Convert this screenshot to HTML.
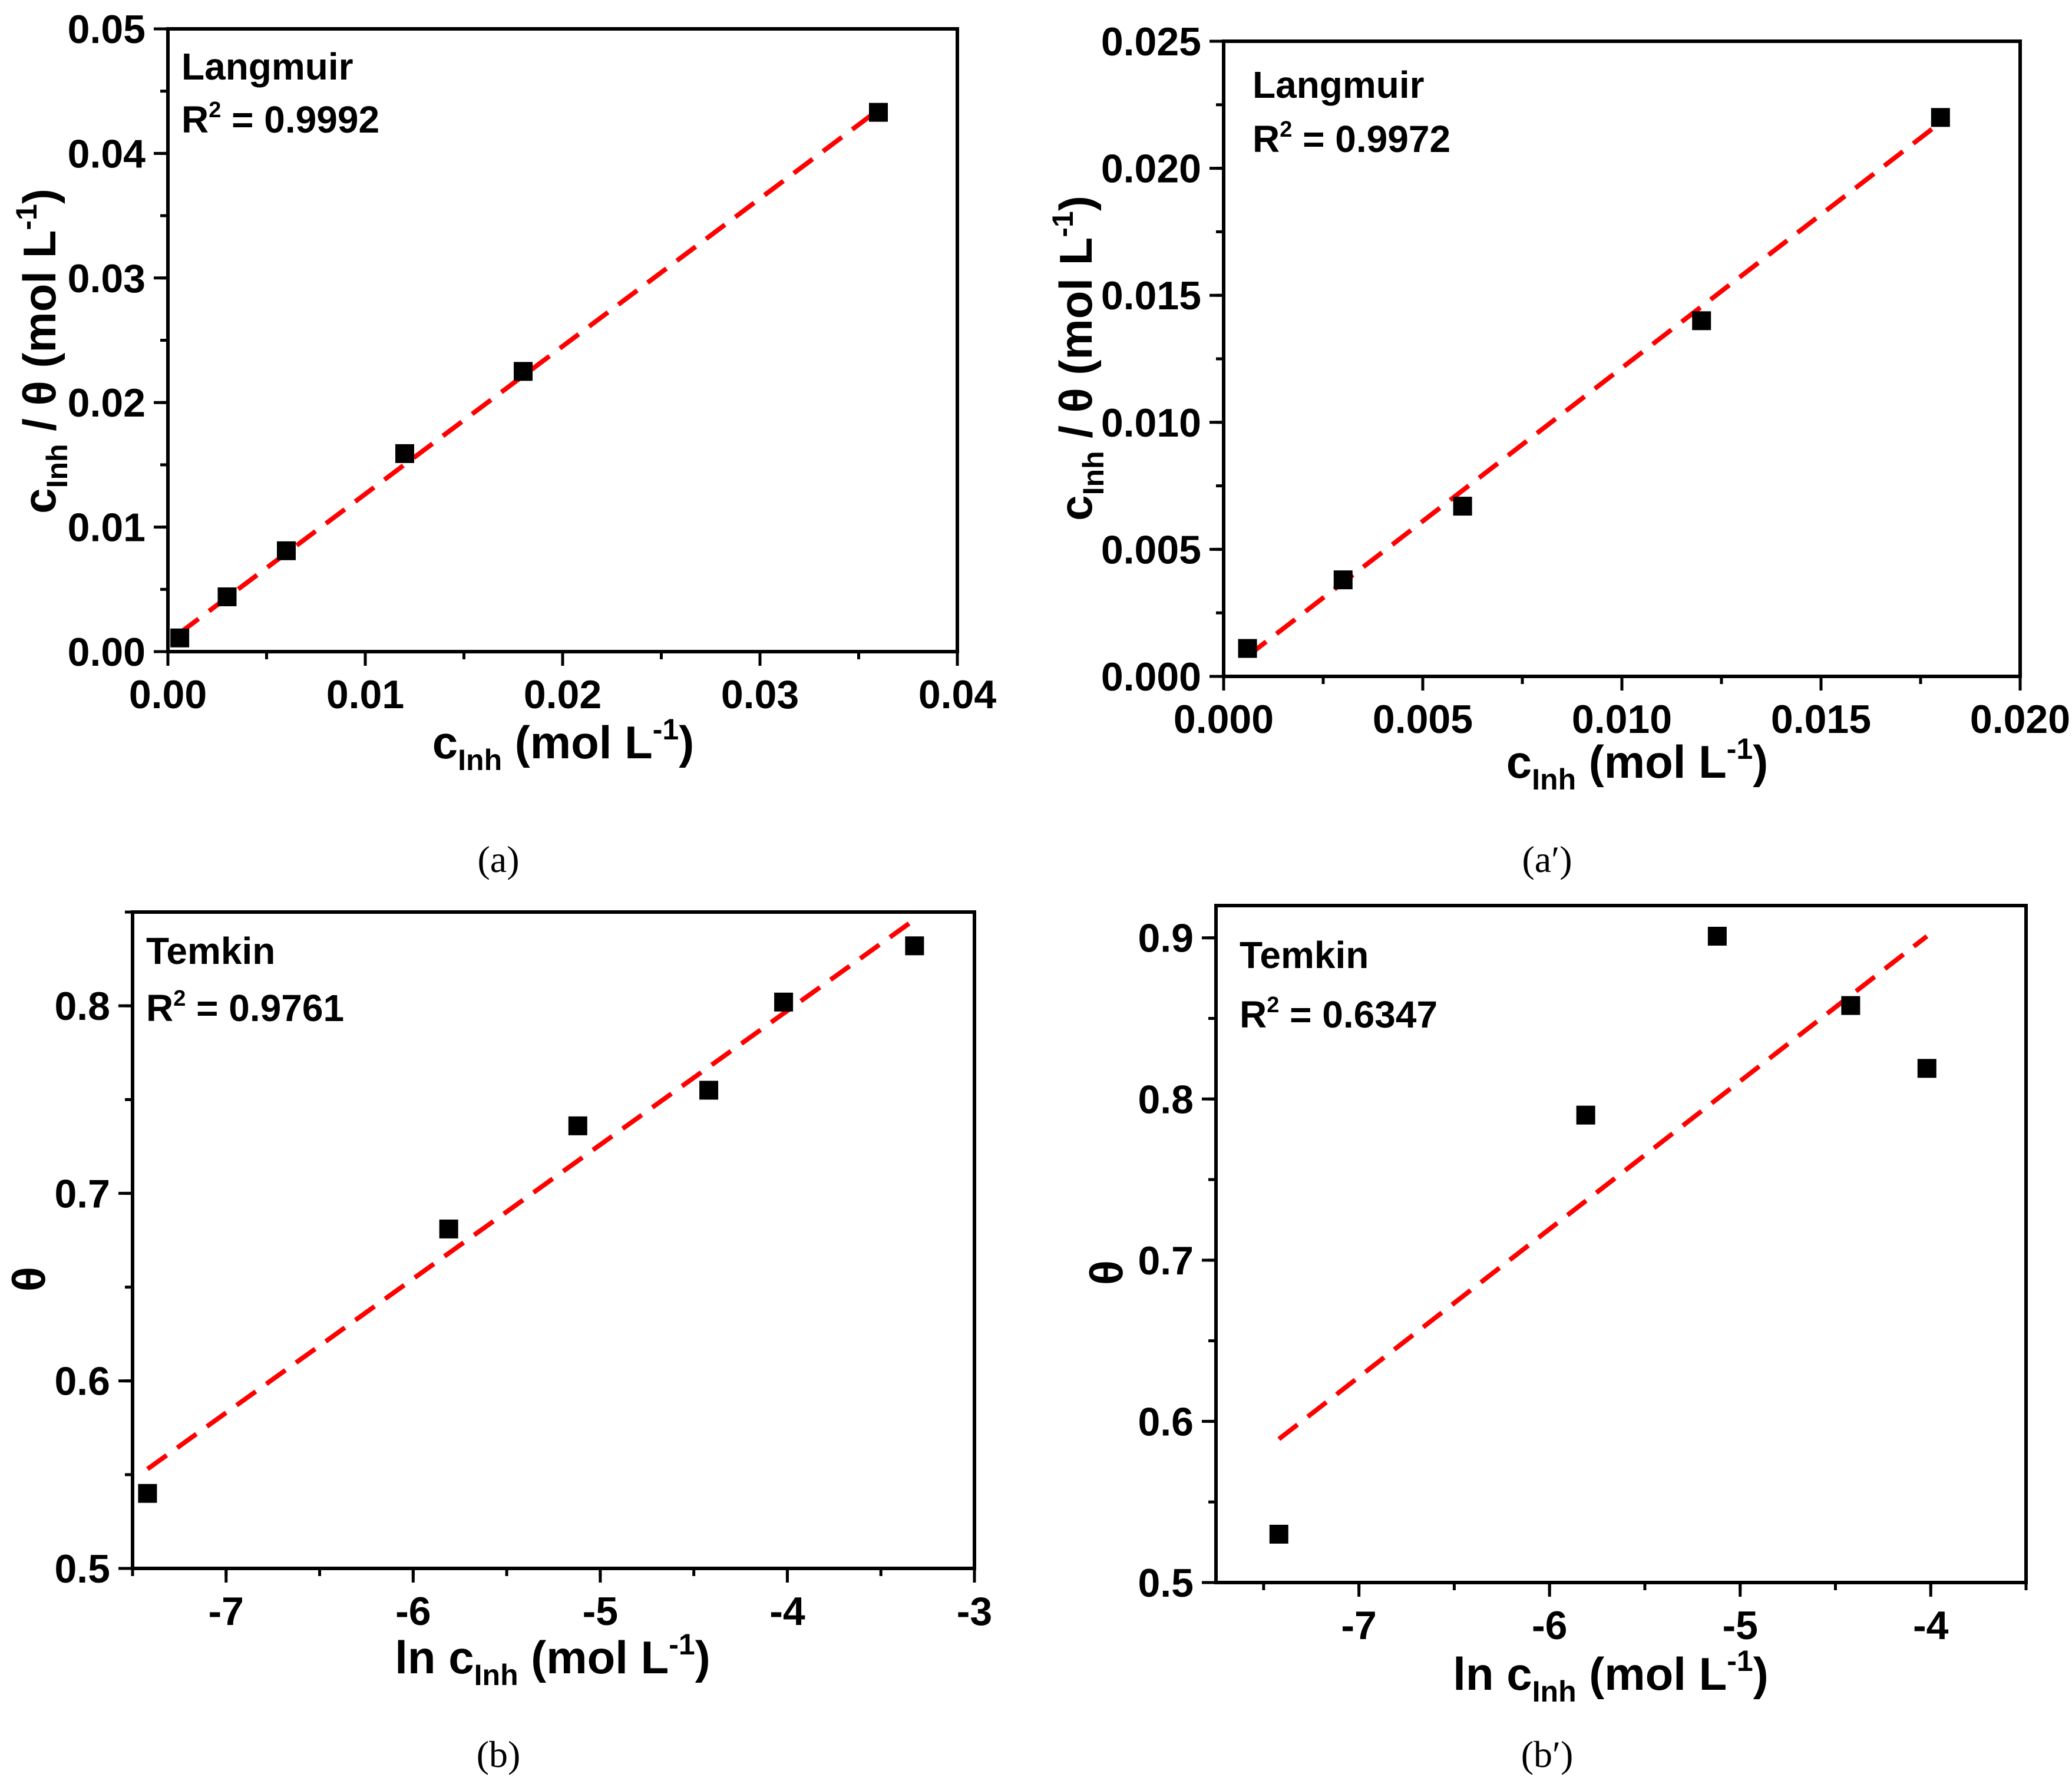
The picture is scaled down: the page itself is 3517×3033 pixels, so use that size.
<!DOCTYPE html>
<html><head><meta charset="utf-8"><style>
html,body{margin:0;padding:0;background:#fff}
svg{display:block}
text{font-family:"Liberation Sans",Arial,sans-serif;font-weight:bold;fill:#000}
.cap{font-family:"Liberation Serif",serif;font-weight:normal}
</style></head><body>
<svg id="fig" width="3517" height="3033" viewBox="0 0 3517 3033" xmlns="http://www.w3.org/2000/svg"></svg>
<script>
// Panel a (Langmuir)
const aX = [0.0006, 0.003, 0.006, 0.012, 0.018, 0.036];
const aY = [0.0011, 0.0044, 0.0081, 0.0159, 0.0225, 0.0433];
const aFitX = [0.0006, 0.036];
const aFitY = [0.0015, 0.0435];
const aXTicks = ["0.00","0.01","0.02","0.03","0.04"];
const aYTicks = ["0.00","0.01","0.02","0.03","0.04","0.05"];
// Panel a' (Langmuir)
const apX = [0.0006, 0.003, 0.006, 0.012, 0.018];
const apY = [0.0011, 0.0038, 0.0067, 0.0140, 0.0220];
const apFitX = [0.0006, 0.018];
const apFitY = [0.0008, 0.0218];
const apXTicks = ["0.000","0.005","0.010","0.015","0.020"];
const apYTicks = ["0.000","0.005","0.010","0.015","0.020","0.025"];
// Panel b (Temkin)
const bX = [-7.42, -5.81, -5.12, -4.42, -4.02, -3.32];
const bY = [0.540, 0.681, 0.736, 0.755, 0.802, 0.832];
const bFitX = [-7.42, -3.32];
const bFitY = [0.553, 0.846];
const bXTicks = ["-7","-6","-5","-4","-3"];
const bYTicks = ["0.5","0.6","0.7","0.8"];
// Panel b' (Temkin)
const bpX = [-7.42, -5.81, -5.12, -4.42, -4.02];
const bpY = [0.530, 0.790, 0.901, 0.858, 0.819];
const bpFitX = [-7.42, -4.02];
const bpFitY = [0.589, 0.901];
const bpXTicks = ["-7","-6","-5","-4"];
const bpYTicks = ["0.5","0.6","0.7","0.8","0.9"];

const NS="http://www.w3.org/2000/svg";
const svg=document.getElementById('fig');
function mk(tag,attrs,parent){const e=document.createElementNS(NS,tag);for(const k in attrs)e.setAttribute(k,attrs[k]);(parent||svg).appendChild(e);return e;}

function panel(id,box,xr,yr,xMinor,yMinor,xT,yT,px,py,fx,fy){
  const g=mk('g',{});
  
  
  const sx=v=>box.l+(v-xr[0])/(xr[1]-xr[0])*(box.r-box.l);
  const sy=v=>box.b-(v-yr[0])/(yr[1]-yr[0])*(box.b-box.t);
  const frame=mk('rect',{x:box.l,y:box.t,width:box.r-box.l,height:box.b-box.t,fill:'none',stroke:'#000','stroke-width':6},g);
  
  
  for(let v=xr[0];v<=xr[1]+1e-9;v+=xMinor){const x=sx(Math.round(v/xMinor)*xMinor);
    const t=mk('line',{x1:x,x2:x,y1:box.b,y2:box.b+13,stroke:'#000','stroke-width':5},g);
    
    }
  for(let v=yr[0];v<=yr[1]+1e-9;v+=yMinor){const y=sy(Math.round(v/yMinor)*yMinor);
    const t=mk('line',{x1:box.l-13,x2:box.l,y1:y,y2:y,stroke:'#000','stroke-width':5},g);
    
    }
  xT.forEach(s=>{const x=sx(parseFloat(s));
    const t=mk('line',{x1:x,x2:x,y1:box.b,y2:box.b+24,stroke:'#000','stroke-width':5},g);
    
    
    const tx=mk('text',{x:x,y:box.b+96,'font-size':68,'text-anchor':'middle'},g);tx.textContent=s;
    
    });
  yT.forEach(s=>{const y=sy(parseFloat(s));
    const t=mk('line',{x1:box.l-24,x2:box.l,y1:y,y2:y,stroke:'#000','stroke-width':5},g);
    
    
    const tx=mk('text',{x:box.l-38,y:y+24,'font-size':68,'text-anchor':'end'},g);tx.textContent=s;
    
    });
  const fit=mk('line',{x1:sx(fx[0]),y1:sy(fy[0]),x2:sx(fx[1]),y2:sy(fy[1]),stroke:'#ff0000','stroke-width':8,'stroke-dasharray':'40 22'},g);
  
  
  px.forEach((v,i)=>{const m=mk('rect',{x:sx(v)-16,y:sy(py[i])-16,width:32,height:32,fill:'#000'},g);
    
    });
  return g;
}
panel('a',{l:285,r:1625,t:49,b:1106},[0,0.04],[0,0.05],0.005,0.005,aXTicks,aYTicks,aX,aY,aFitX,aFitY);
panel('a-prime',{l:2077,r:3429,t:70,b:1148},[0,0.02],[0,0.025],0.0025,0.0025,apXTicks,apYTicks,apX,apY,apFitX,apFitY);
panel('b',{l:225,r:1654,t:1548,b:2662},[-7.5,-3],[0.5,0.85],0.5,0.05,bXTicks,bYTicks,bX,bY,bFitX,bFitY);
panel('b-prime',{l:2064,r:3439,t:1537,b:2686},[-7.75,-3.5],[0.5,0.92],0.5,0.05,bpXTicks,bpYTicks,bpX,bpY,bpFitX,bpFitY);
</script>
<svg style="position:absolute;left:0;top:0" width="3517" height="3033" viewBox="0 0 3517 3033" xmlns="http://www.w3.org/2000/svg">
<text x="308" y="135" font-size="64">Langmuir</text>
<text x="308" y="225" font-size="64">R<tspan dy="-26" font-size="38">2</tspan><tspan dy="26"> = 0.9992</tspan></text>
<text x="2126" y="166" font-size="64">Langmuir</text>
<text x="2126" y="258" font-size="64">R<tspan dy="-26" font-size="38">2</tspan><tspan dy="26"> = 0.9972</tspan></text>
<text x="248" y="1636" font-size="64">Temkin</text>
<text x="248" y="1733" font-size="64">R<tspan dy="-26" font-size="38">2</tspan><tspan dy="26"> = 0.9761</tspan></text>
<text x="2104" y="1643" font-size="64">Temkin</text>
<text x="2104" y="1744" font-size="64">R<tspan dy="-26" font-size="38">2</tspan><tspan dy="26"> = 0.6347</tspan></text>
<text x="956" y="1287" font-size="78" text-anchor="middle">c<tspan dy="20" font-size="50">Inh</tspan><tspan dy="-20">  (mol L</tspan><tspan dy="-32" font-size="50">-1</tspan><tspan dy="32">)</tspan></text>
<text transform="translate(94,596) rotate(-90)" font-size="78" text-anchor="middle">c<tspan dy="20" font-size="50">Inh</tspan><tspan dy="-20"> / θ  (mol L</tspan><tspan dy="-32" font-size="50">-1</tspan><tspan dy="32">)</tspan></text>
<text x="2779" y="1320" font-size="78" text-anchor="middle">c<tspan dy="20" font-size="50">Inh</tspan><tspan dy="-20">  (mol L</tspan><tspan dy="-32" font-size="50">-1</tspan><tspan dy="32">)</tspan></text>
<text transform="translate(1853,608) rotate(-90)" font-size="78" text-anchor="middle">c<tspan dy="20" font-size="50">Inh</tspan><tspan dy="-20"> / θ  (mol L</tspan><tspan dy="-32" font-size="50">-1</tspan><tspan dy="32">)</tspan></text>
<text x="938" y="2840" font-size="78" text-anchor="middle">ln c<tspan dy="20" font-size="50">Inh</tspan><tspan dy="-20"> (mol L</tspan><tspan dy="-32" font-size="50">-1</tspan><tspan dy="32">)</tspan></text>
<text transform="translate(76,2171) rotate(-90)" font-size="78" text-anchor="middle">θ</text>
<text x="2734" y="2868" font-size="78" text-anchor="middle">ln c<tspan dy="20" font-size="50">Inh</tspan><tspan dy="-20"> (mol L</tspan><tspan dy="-32" font-size="50">-1</tspan><tspan dy="32">)</tspan></text>
<text transform="translate(1905,2160) rotate(-90)" font-size="78" text-anchor="middle">θ</text>
<text class="cap" x="846" y="1480" font-size="64" text-anchor="middle">(a)</text>
<text class="cap" x="2626" y="1480" font-size="64" text-anchor="middle">(a′)</text>
<text class="cap" x="846" y="2999" font-size="64" text-anchor="middle">(b)</text>
<text class="cap" x="2626" y="2999" font-size="64" text-anchor="middle">(b′)</text>
</svg>
</body></html>
